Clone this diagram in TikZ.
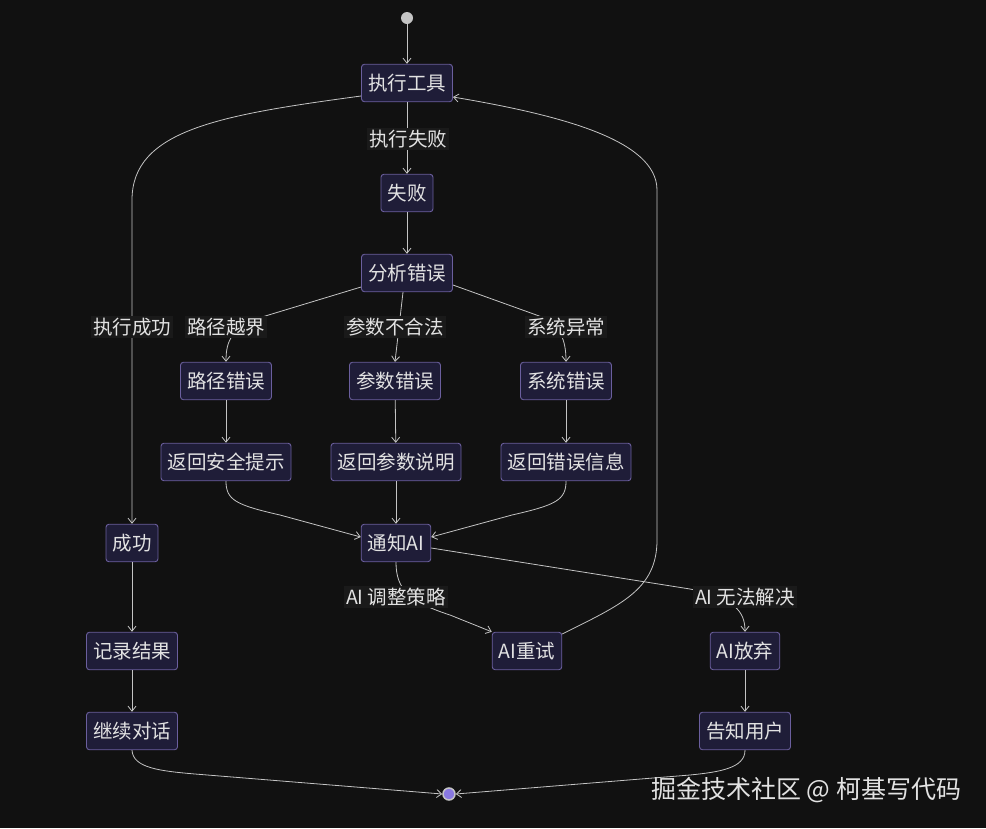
\documentclass[tikz,border=0pt]{standalone}
\usepackage{fontspec}
\setmainfont{Noto Sans CJK SC}
\usetikzlibrary{arrows.meta}
\definecolor{bgc}{HTML}{111111}
\definecolor{txt}{HTML}{E2E2E2}
\definecolor{nfill}{HTML}{1F1D38}
\definecolor{ndraw}{HTML}{6B5F9E}
\definecolor{linec}{HTML}{C4C4C4}
\definecolor{lblbg}{HTML}{1A1A1A}
\definecolor{endin}{HTML}{8878E0}
\tikzset{
  st/.style={draw=ndraw, fill=nfill, rounded corners=3pt, line width=0.9pt,
    text=txt, minimum height=37.5pt, inner xsep=6.5pt, inner ysep=0pt,
    font=\fontsize{19.5}{22}\selectfont},
  lbl/.style={fill=lblbg, text=txt, inner xsep=2pt, inner ysep=2pt,
    font=\fontsize{19.5}{22}\selectfont},
  edge/.style={draw=linec, line width=0.8pt, -{Straight Barb[length=5pt,width=8pt]}},
}
\begin{document}
\begin{tikzpicture}[x=1pt,y=-1pt]
\fill[bgc] (0,0) rectangle (986,828);
\useasboundingbox (0,0) rectangle (986,828);

% nodes
\node[circle, fill=linec, minimum size=12pt, inner sep=0pt] (start) at (407,18) {};
\node[st] (exec) at (407,83) {执行工具};
\node[st] (fail) at (407,193) {失败};
\node[st] (ana) at (407,273) {分析错误};
\node[st] (perr) at (226,381) {路径错误};
\node[st] (parg) at (395,381) {参数错误};
\node[st] (serr) at (566,381) {系统错误};
\node[st] (ret1) at (226,462) {返回安全提示};
\node[st] (ret2) at (396,462) {返回参数说明};
\node[st] (ret3) at (566,462) {返回错误信息};
\node[st] (notify) at (396,543) {通知AI};
\node[st] (succ) at (132,543) {成功};
\node[st] (retry) at (527,651) {AI重试};
\node[st] (giveup) at (745,651) {AI放弃};
\node[st] (rec) at (132,651) {记录结果};
\node[st] (cont) at (132,731) {继续对话};
\node[st] (tell) at (745,731) {告知用户};
\node[circle, draw=linec, fill=endin, line width=1.5pt, minimum size=12pt, inner sep=0pt] (end) at (449,794) {};

% edges
\draw[edge] (start) -- (exec);
\draw[edge] ([yshift=-13pt]exec.west) .. controls (220,115) and (132,130) .. (132,200) -- (succ.north);
\draw[edge] (exec) -- (fail);
\draw[edge] (fail) -- (ana);
\draw[edge] ([yshift=-14pt]ana.west) -- (262,317) .. controls (232,328) and (226,340) .. (perr.north);
\draw[edge] ([xshift=-4pt]ana.south) -- (parg.north);
\draw[edge] ([yshift=-12pt]ana.east) -- (542,317) .. controls (560,325) and (566,340) .. (serr.north);
\draw[edge] (perr) -- (ret1);
\draw[edge] (parg) -- (ret2);
\draw[edge] (serr) -- (ret3);
\draw[edge] (ret1.south) .. controls (226,500) and (236,505) .. (280,515) -- ([yshift=6pt]notify.west);
\draw[edge] (ret2) -- (notify);
\draw[edge] (ret3.south) .. controls (566,500) and (556,505) .. (512,515) -- ([yshift=6pt]notify.east);
\draw[edge] (notify.south) .. controls (396,590) and (410,602) .. (450,615) -- (retry.north west);
\draw[edge] ([yshift=-5pt]notify.east) -- (690,589) .. controls (735,598) and (745,612) .. (giveup.north);
\draw[edge] ([yshift=17pt]retry.east) .. controls (620,605) and (657,590) .. (657,540) -- (657,190) .. controls (657,140) and (560,115) .. ([yshift=-14pt]exec.east);
\draw[edge] (succ) -- (rec);
\draw[edge] (rec) -- (cont);
\draw[edge] (giveup) -- (tell);
\draw[edge] (cont.south) .. controls (133,768) and (160,771) .. (195,774) -- (end.west);
\draw[edge] (tell.south) .. controls (745,768) and (720,772) .. (690,775) -- (end.east);

% edge labels
\node[lbl] (l1) at (408,139) {执行失败};
\node[lbl] (l2) at (132,327) {执行成功};
\node[lbl] (l3) at (226,327) {路径越界};
\node[lbl] (l4) at (395,327) {参数不合法};
\node[lbl] (l5) at (566,327) {系统异常};
\node[lbl] (l6) at (396,597) {AI 调整策略};
\node[lbl] (l7) at (745,597) {AI 无法解决};

% watermark
\node[text=txt, anchor=west, inner sep=0pt, font=\fontsize{25}{28}\selectfont] (wm) at (651,790) {掘金技术社区 @ 柯基写代码};
\end{tikzpicture}
\end{document}
